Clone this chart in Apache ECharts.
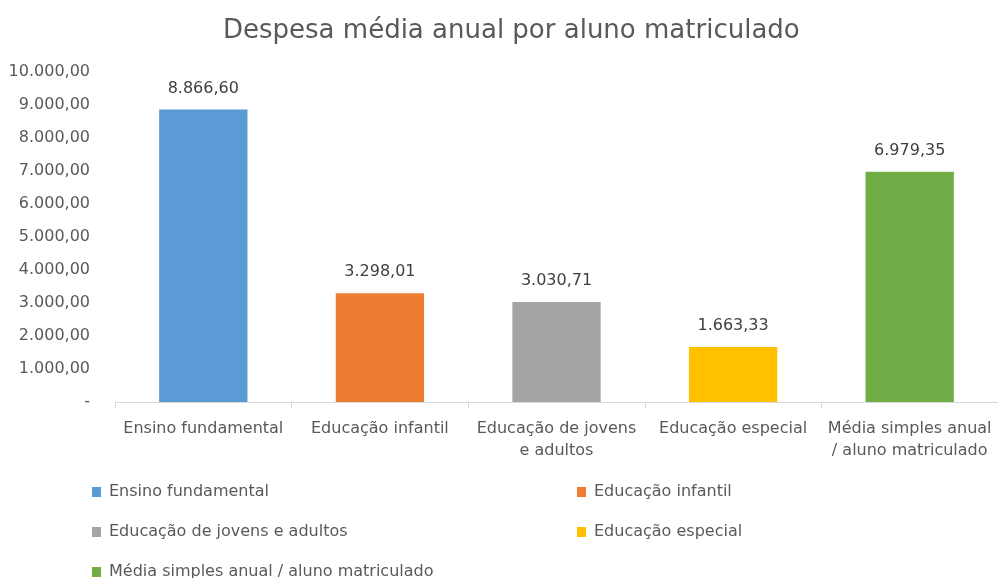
<!DOCTYPE html>
<html><head><meta charset="utf-8">
<script src="https://cdn.jsdelivr.net/npm/echarts@6/dist/echarts.min.js"></script>
<style>html,body{margin:0;padding:0;background:#fff}#c{width:998px;height:578px}</style>
</head><body><div id="c"></div>
<script>
const title = 'Despesa média anual por aluno matriculado';
const categories = ['Ensino fundamental', 'Educação infantil', 'Educação de jovens e adultos', 'Educação especial', 'Média simples anual / aluno matriculado'];
const categoryLabels = ['Ensino fundamental', 'Educação infantil', 'Educação de jovens\ne adultos', 'Educação especial', 'Média simples anual\n/ aluno matriculado'];
const values = [8866.60, 3298.01, 3030.71, 1663.33, 6979.35];
const colors = ['#5B9BD5', '#ED7D31', '#A5A5A5', '#FFC000', '#70AD47'];
const yMin = 0, yMax = 10000, yStep = 1000;

const FONT = '"DejaVu Sans", sans-serif';
function fmt(v){
  if (v === 0) return '-';
  const parts = v.toFixed(2).split('.');
  return parts[0].replace(/\B(?=(\d{3})+(?!\d))/g, '.') + ',' + parts[1];
}
const series = categories.map((name, i) => ({
  name: name,
  type: 'bar',
  stack: 'all',
  barWidth: '50%',
  itemStyle: { color: colors[i] },
  data: categories.map((c, j) => j === i ? values[i] : null),
  label: { show: true, position: 'top', distance: 13, color: '#404040', fontFamily: FONT, fontSize: 16,
           formatter: p => fmt(p.value) }
}));
const legendPos = [
  {left: 87, top: 479}, {left: 572, top: 479},
  {left: 87, top: 519}, {left: 572, top: 519},
  {left: 87, top: 559}
];
const legends = categories.map((name, i) => ({
  data: [name], left: legendPos[i].left, top: legendPos[i].top,
  itemWidth: 9, itemHeight: 10, itemGap: 4, icon: 'rect', selectedMode: false,
  textStyle: { color: '#595959', fontFamily: FONT, fontSize: 16, padding: [0,0,0,3] }
}));
const chart = echarts.init(document.getElementById('c'));
chart.setOption({
  animation: false,
  title: { text: title, left: 218, top: 13,
           textStyle: { color: '#595959', fontFamily: FONT, fontSize: 26, fontWeight: 'normal' } },
  grid: { left: 115, right: 0, top: 72, bottom: 176, containLabel: false },
  legend: legends,
  xAxis: {
    type: 'category', data: categories,
    axisLine: { lineStyle: { color: '#D9D9D9' } },
    axisTick: { show: true, alignWithLabel: false, length: 6, lineStyle: { color: '#D9D9D9' } },
    axisLabel: { color: '#595959', fontFamily: FONT, fontSize: 16, interval: 0, margin: 16,
                 lineHeight: 22, formatter: (v, i) => categoryLabels[i] }
  },
  yAxis: {
    type: 'value', min: yMin, max: yMax, interval: yStep,
    splitLine: { show: false },
    axisLine: { show: false }, axisTick: { show: false },
    axisLabel: { color: '#595959', fontFamily: FONT, fontSize: 16, margin: 25, formatter: v => fmt(v) }
  },
  series: series
});
</script></body></html>
